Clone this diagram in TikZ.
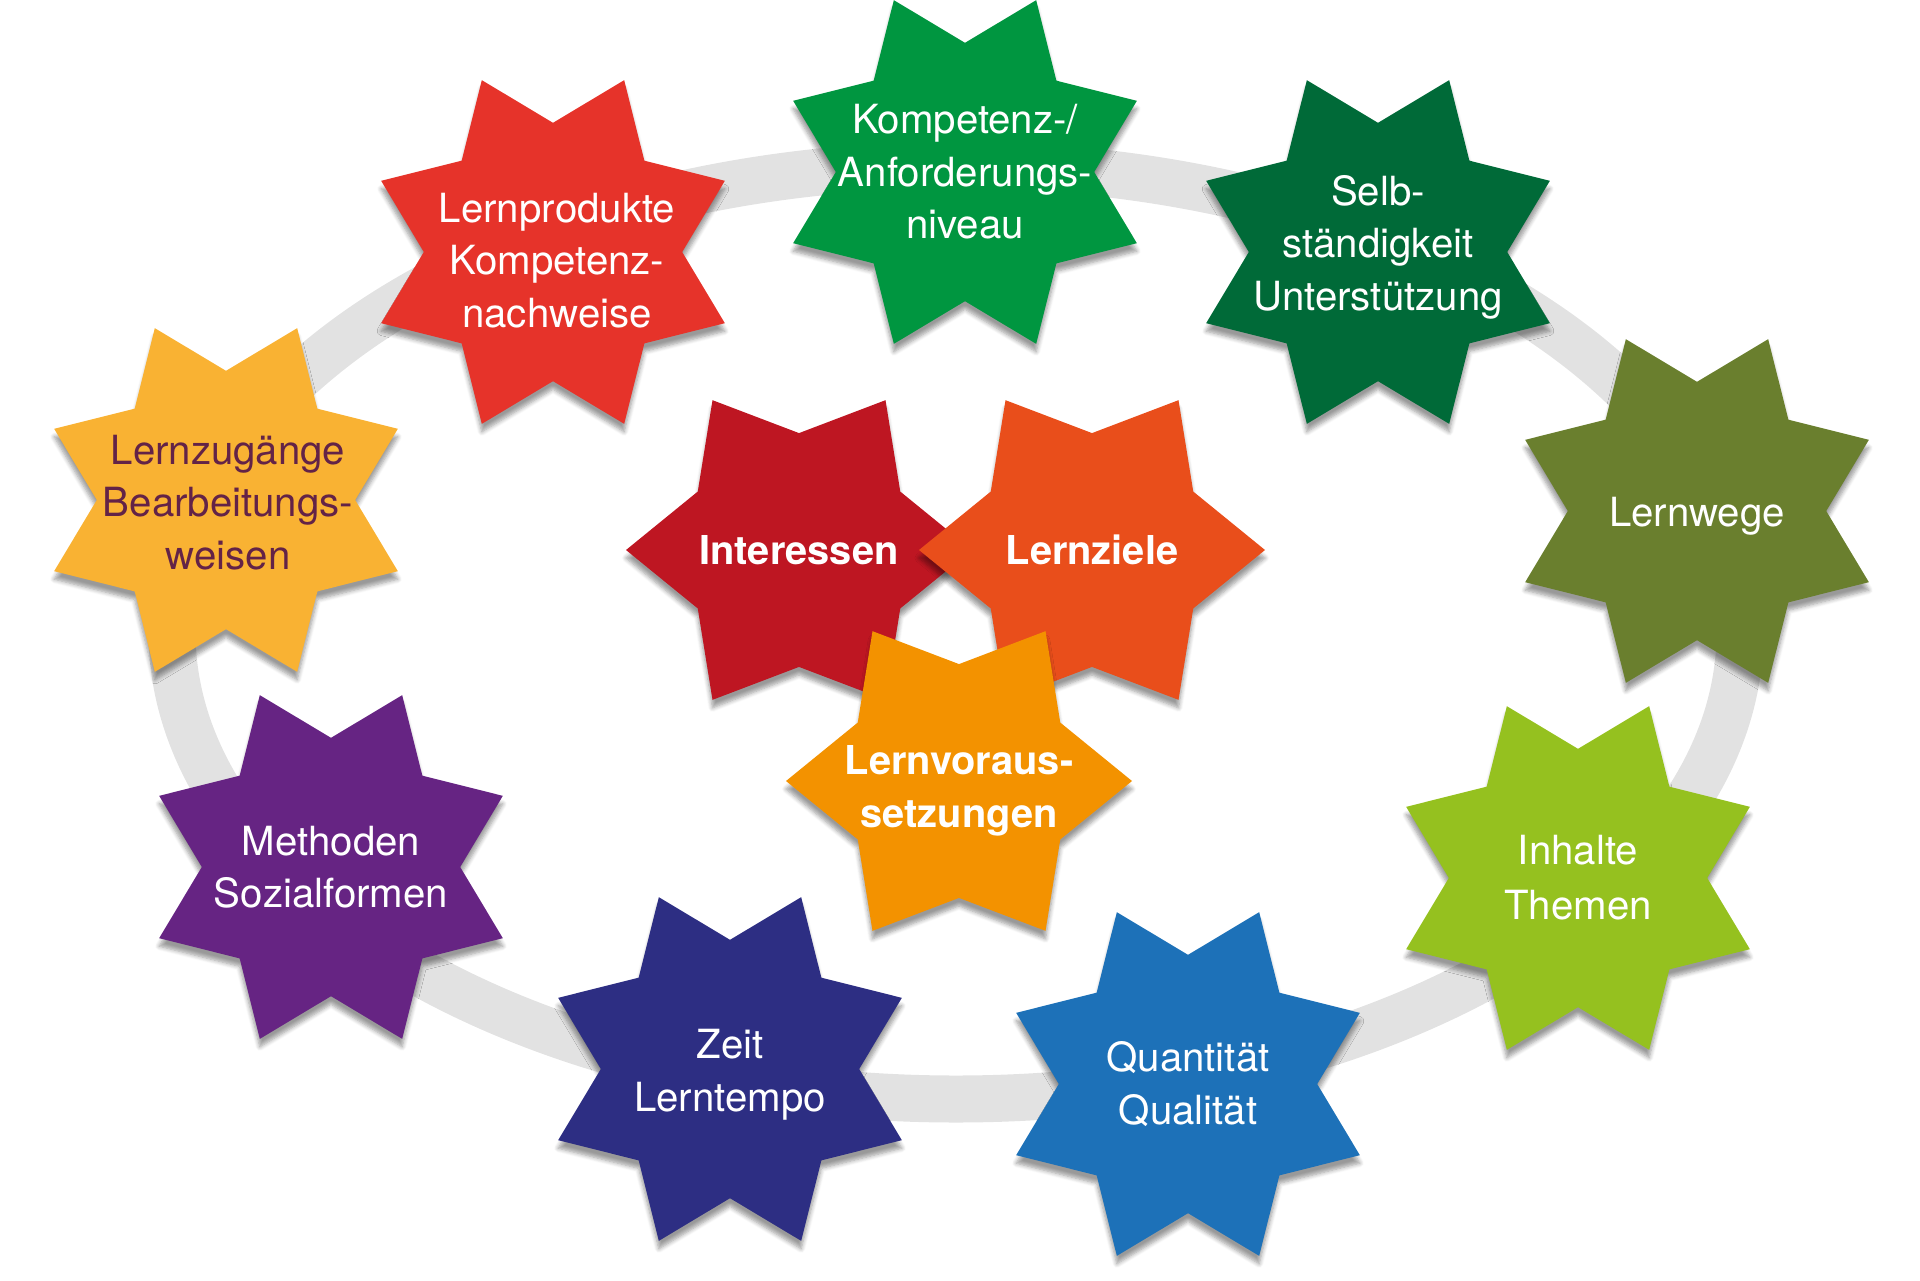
\documentclass[tikz,border=0pt]{standalone}
\usepackage{fontspec}
\setmainfont{TeX Gyre Heros}
\usepackage{tikz}
\usetikzlibrary{shapes.geometric, shadows.blur}
\definecolor{ringgrau}{HTML}{E2E2E2}
\definecolor{produktrot}{HTML}{E6332A}
\definecolor{kompgruen}{HTML}{009640}
\definecolor{selbgruen}{HTML}{006A38}
\definecolor{wegeoliv}{HTML}{6A7F2E}
\definecolor{inhaltgruen}{HTML}{95C11F}
\definecolor{quantblau}{HTML}{1D71B8}
\definecolor{zeitblau}{HTML}{2D2E83}
\definecolor{methlila}{HTML}{662483}
\definecolor{zuganggelb}{HTML}{F9B233}
\definecolor{zugangtext}{HTML}{632347}
\definecolor{interrot}{HTML}{BE1622}
\definecolor{zielorange}{HTML}{E94E1B}
\definecolor{vorausorange}{HTML}{F39200}
\tikzstyle{schatten} = [blur shadow={shadow xshift=0pt, shadow yshift=-4pt, shadow blur steps=6}]
\tikzstyle{ringband} = [draw=ringgrau, line width=23.5pt]
\tikzstyle{ringstern} = [star, star points=8, star point ratio=1.44, shape border rotate=22.5, minimum size=186pt, inner sep=0pt, schatten]
\tikzstyle{kernstern} = [star, star points=6, star point ratio=1.48, shape border rotate=30, minimum size=173pt, inner sep=0pt, schatten]
\tikzstyle{sterntext} = [text=white, align=center, font=\fontsize{20.1}{26.3}\selectfont]
\tikzstyle{kerntext} = [sterntext, font=\bfseries\fontsize{19.9}{26.3}\selectfont]

\begin{document}
\begin{tikzpicture}[x=0.5pt, y=-0.5pt]
    \useasboundingbox (0,0) rectangle (1920,1280);

    % Ring
    \draw [ringband] (956,632) ellipse [x radius=784, y radius=467];

    % Sterne auf dem Ring
    \node (komp) [ringstern, fill=kompgruen] at (965,172) {};
    \node (kompT) [sterntext] at (komp) {Kompetenz-/\\Anforderungs-\\niveau};
    \node (selb) [ringstern, fill=selbgruen] at (1378,252) {};
    \node (selbT) [sterntext, yshift=2.5pt] at (selb) {Selb-\\ständigkeit\\Unterstützung};
    \node (wege) [ringstern, fill=wegeoliv] at (1697,511) {};
    \node (wegeT) [sterntext, yshift=-2.5pt] at (wege) {Lernwege};
    \node (inhalt) [ringstern, fill=inhaltgruen] at (1578,878) {};
    \node (inhaltT) [sterntext, font=\fontsize{20.1}{27.5}\selectfont] at (inhalt) {Inhalte\\Themen};
    \node (quant) [ringstern, fill=quantblau] at (1188,1084) {};
    \node (quantT) [sterntext] at (quant) {Quantität\\Qualität};
    \node (zeit) [ringstern, fill=zeitblau] at (730,1069) {};
    \node (zeitT) [sterntext, yshift=-3pt] at (zeit) {Zeit\\Lerntempo};
    \node (meth) [ringstern, fill=methlila] at (331,867) {};
    \node (methT) [sterntext] at (meth) {Methoden\\Sozialformen};
    \node (zugang) [ringstern, fill=zuganggelb] at (226,500) {};
    \node (zugangT) [sterntext, text=zugangtext, yshift=-1.2pt, xshift=1pt] at (zugang) {Lernzugänge\\Bearbeitungs-\\weisen};
    \node (produkt) [ringstern, fill=produktrot] at (553,252) {};
    \node (produktT) [sterntext, yshift=-4.3pt, xshift=2pt] at (produkt) {Lernprodukte\\Kompetenz-\\nachweise};

    % Sterne in der Mitte
    \node (inter) [kernstern, fill=interrot] at (799,550) {};
    \node (interT) [kerntext] at (inter) {Interessen};
    \node (ziele) [kernstern, fill=zielorange] at (1092,550) {};
    \node (zieleT) [kerntext] at (ziele) {Lernziele};
    \node (voraus) [kernstern, fill=vorausorange] at (959,781) {};
    \node (vorausT) [kerntext, yshift=-4.8pt] at (voraus) {Lernvoraus-\\setzungen};
\end{tikzpicture}
\end{document}
